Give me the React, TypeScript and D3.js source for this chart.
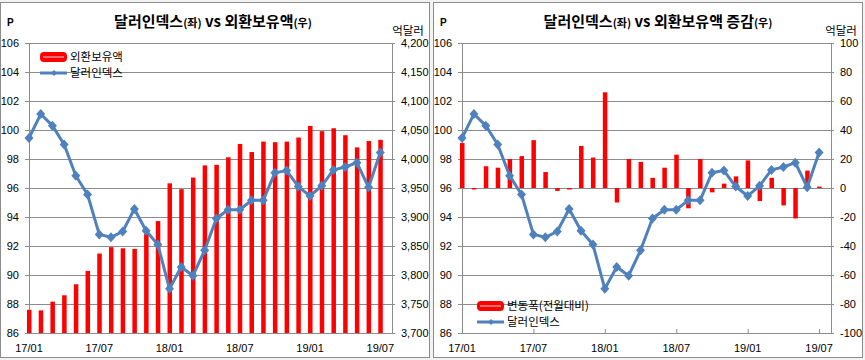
import React from 'react';
import * as d3 from 'd3';

// monthly categories, 17/01 .. 19/07
const months = [
  '17/01', '17/02', '17/03', '17/04', '17/05', '17/06', '17/07', '17/08', '17/09', '17/10', '17/11', '17/12',
  '18/01', '18/02', '18/03', '18/04', '18/05', '18/06', '18/07', '18/08', '18/09', '18/10', '18/11', '18/12',
  '19/01', '19/02', '19/03', '19/04', '19/05', '19/06', '19/07',
];
const xTickLabels = ['17/01', '17/07', '18/01', '18/07', '19/01', '19/07'];

// 달러인덱스 (P)
const dollarIndex = [
  99.45, 101.1, 100.3, 99.0, 96.85, 95.55, 92.8, 92.6, 93.0, 94.55, 93.05, 92.1,
  89.05, 90.55, 89.95, 91.7, 93.9, 94.5, 94.5, 95.15, 95.15, 97.05, 97.2, 96.1,
  95.45, 96.15, 97.25, 97.45, 97.75, 96.05, 98.45,
];
// 외환보유액 (억달러)
const reserves = [
  3740, 3739, 3754, 3765, 3784, 3807, 3837, 3848, 3846, 3845, 3871, 3893,
  3958, 3948, 3968, 3989, 3990, 4003, 4026, 4012, 4030, 4029, 4030, 4037,
  4057, 4048, 4053, 4041, 4020, 4031, 4033,
];
// 변동폭(전월대비) (억달러)
const reserveChange = [
  31, -1, 15, 14, 20, 22, 33, 11, -2, -1, 29, 21,
  66, -10, 20, 18, 7, 14, 23, -14, 20, -3, 3, 8,
  19, -9, 7, -12, -21, 12, 1,
];

const indexTicks = [86, 88, 90, 92, 94, 96, 98, 100, 102, 104, 106];
const reserveTicks = [3700, 3750, 3800, 3850, 3900, 3950, 4000, 4050, 4100, 4150, 4200];
const changeTicks = [-100, -80, -60, -40, -20, 0, 20, 40, 60, 80, 100];

const W = 865;
const H = 360;
const TOP = 43;
const BOTTOM = 333;
const RED = '#ff0000';
const BLUE = '#4f81bd';
const GRID = '#8c8c8c';
const NUM_FONT = "'Liberation Sans', Arial, sans-serif";
const KR_FONT = "'Noto Sans CJK KR', 'Noto Sans', sans-serif";

const diamond = 'M0,-5L4.5,0L0,5L-4.5,0Z';

type Seg = { t: string; small?: boolean };

interface PanelProps {
  fx0: number;
  fx1: number;
  x0: number;
  x1: number;
  title: Seg[];
  titleX: number;
  rightDomain: [number, number];
  rightTicks: number[];
  rightFormat: (v: number) => string;
  bars: number[];
  barBase: number;
  barLabel: string;
  legendX: number;
  legendY: number;
}

const Panel: React.FC<PanelProps> = (p) => {
  const x = d3.scaleLinear().domain([0, 31]).range([p.x0, p.x1]);
  const yL = d3.scaleLinear().domain([86, 106]).range([BOTTOM, TOP]);
  const yR = d3.scaleLinear().domain(p.rightDomain).range([BOTTOM, TOP]);
  const line = d3
    .line<number>()
    .x((_, i) => x(i))
    .y((d) => yL(d));

  return (
    <g>
      <rect x={p.fx0 + 0.5} y={2.5} width={p.fx1 - p.fx0 - 1} height={355} fill="#fff" stroke={GRID} />

      {/* title */}
      <text x={p.titleX} y={27} textAnchor="middle" fontFamily={KR_FONT} fontWeight="bold" fontSize={15} fill="#000">
        {p.title.map((s, i) => (
          <tspan key={i} fontSize={s.small ? 11 : 15}>{s.t}</tspan>
        ))}
      </text>
      <text x={p.fx0 + 7} y={26} fontFamily={NUM_FONT} fontWeight="bold" fontSize={10} fill="#000">P</text>
      <text x={p.fx1 - 22} y={35} textAnchor="middle" fontFamily={KR_FONT} fontSize={11.5} fill="#000">억달러</text>

      {/* grid + left axis */}
      {indexTicks.map((t) => (
        <g key={t}>
          <line x1={p.x0 - 4} x2={p.x1 + 3} y1={yL(t) + 0.5} y2={yL(t) + 0.5} stroke={GRID} />
          <text x={p.x0 - 10} y={yL(t)} dy="0.35em" textAnchor="end" fontFamily={NUM_FONT} fontSize={11} fill="#000">
            {t}
          </text>
        </g>
      ))}
      {p.rightTicks.map((t) => (
        <text key={t} x={p.x1 + 9} y={yR(t)} dy="0.35em" fontFamily={NUM_FONT} fontSize={11} fill="#000">
          {p.rightFormat(t)}
        </text>
      ))}
      <line x1={p.x0 + 0.5} x2={p.x0 + 0.5} y1={TOP} y2={BOTTOM} stroke={GRID} />
      <line x1={p.x1 + 0.5} x2={p.x1 + 0.5} y1={TOP} y2={BOTTOM} stroke={GRID} />

      {/* x axis */}
      {xTickLabels.map((lab) => {
        const i = months.indexOf(lab);
        return (
          <g key={lab}>
            <line x1={x(i) + 0.5} x2={x(i) + 0.5} y1={BOTTOM - 4} y2={BOTTOM} stroke={GRID} />
            <text x={x(i)} y={348} dy="0.35em" textAnchor="middle" fontFamily={NUM_FONT} fontSize={11} fill="#000">
              {lab}
            </text>
          </g>
        );
      })}

      {/* bars */}
      {p.bars.map((v, i) => {
        const y0 = yR(p.barBase);
        const y1 = yR(v);
        return (
          <rect
            key={months[i]}
            x={x(i) - 2}
            width={4.5}
            y={Math.min(y0, y1)}
            height={Math.max(Math.abs(y1 - y0), 1.5)}
            fill={RED}
          />
        );
      })}

      {/* dollar index line */}
      <path d={line(dollarIndex) || ''} fill="none" stroke={BLUE} strokeWidth={3} strokeLinejoin="round" />
      {dollarIndex.map((v, i) => (
        <path key={months[i]} d={diamond} transform={`translate(${x(i)},${yL(v)})`} fill={BLUE} />
      ))}

      {/* legend */}
      <g transform={`translate(${p.legendX},${p.legendY})`}>
        <rect x={0} y={-5} width={27} height={10} rx={4} fill={RED} />
        <line x1={3} x2={24} y1={0} y2={0} stroke="#e07070" strokeWidth={2} />
        <text x={30} y={0} dy="0.35em" fontFamily={KR_FONT} fontSize={11.5} fill="#000">{p.barLabel}</text>
        <line x1={0} x2={27} y1={16} y2={16} stroke={BLUE} strokeWidth={3} />
        <path d="M0,-3L3,0L0,3L-3,0Z" transform="translate(14,16)" fill={BLUE} />
        <text x={30} y={16} dy="0.35em" fontFamily={KR_FONT} fontSize={11.5} fill="#000">달러인덱스</text>
      </g>
    </g>
  );
};

export default function App() {
  const fmtComma = d3.format(',');
  return (
    <svg width={W} height={H} style={{ position: 'fixed', left: 0, top: 0, background: '#f3f3f3' }}>
      <Panel
        fx0={0}
        fx1={430}
        x0={29}
        x1={392}
        title={[{ t: '달러인덱스' }, { t: '(좌)', small: true }, { t: ' vs 외환보유액' }, { t: '(우)', small: true }]}
        titleX={213}
        rightDomain={[3700, 4200]}
        rightTicks={reserveTicks}
        rightFormat={(v) => fmtComma(v)}
        bars={reserves}
        barBase={3700}
        barLabel="외환보유액"
        legendX={40}
        legendY={57}
      />
      <Panel
        fx0={433}
        fx1={863}
        x0={462}
        x1={831}
        title={[{ t: '달러인덱스' }, { t: '(좌)', small: true }, { t: ' vs 외환보유액 증감' }, { t: '(우)', small: true }]}
        titleX={658}
        rightDomain={[-100, 100]}
        rightTicks={changeTicks}
        rightFormat={(v) => String(v)}
        bars={reserveChange}
        barBase={0}
        barLabel="변동폭(전월대비)"
        legendX={477}
        legendY={306}
      />
    </svg>
  );
}
